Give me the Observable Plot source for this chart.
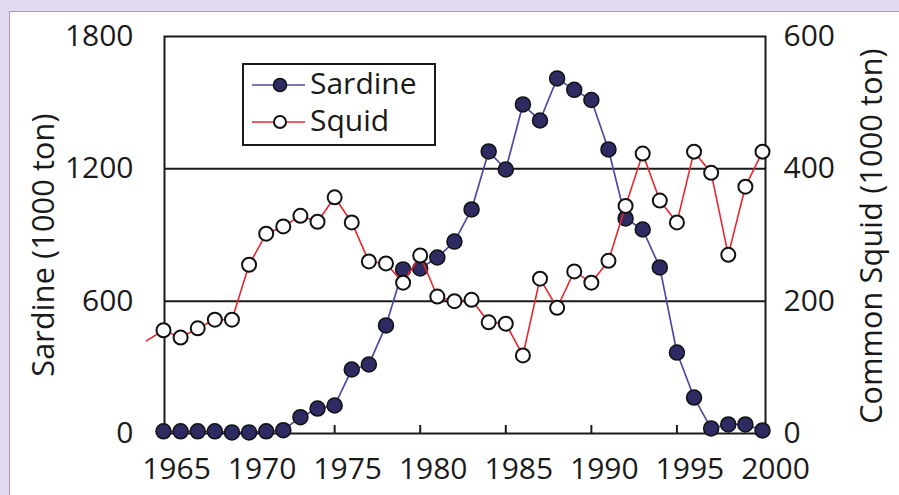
<!DOCTYPE html>
<html>
<head>
<meta charset="utf-8">
<script src="https://cdn.jsdelivr.net/npm/d3@7"></script>
<script src="https://cdn.jsdelivr.net/npm/@observablehq/plot@0.6"></script>
<style>
  html, body { margin: 0; padding: 0; }
  body { width: 899px; height: 495px; background: #e2dbef; position: relative; overflow: hidden; font-family: "Open Sans", sans-serif; color: #1a1a1a; }
  #panel { position: absolute; left: 9px; top: 11px; width: 900px; height: 500px; background: #fff; border-left: 1.5px solid #b48fd2; border-top: 1.5px solid #b48fd2; }
  #chart { position: absolute; left: 0; top: 0; }
  #legend { position: absolute; left: 242px; top: 63px; width: 194px; height: 83px; box-sizing: border-box; border: 2px solid #1a1a1a; background: #fff; }
  #legend svg { position: absolute; left: 0; top: 0; }
  #legend span { position: absolute; left: 66px; font-size: 30px; line-height: 30px; white-space: nowrap; }
  .ytitle { position: absolute; font-size: 30.5px; letter-spacing: 0.2px; line-height: 32px; white-space: nowrap; transform: translate(-50%, -50%) rotate(-90deg); }
</style>
</head>
<body>
<div id="panel"></div>
<div id="chart"></div>
<div id="legend"></div>
<div id="leftTitle" class="ytitle" style="left:42px; top:245px;"></div>
<div id="rightTitle" class="ytitle" style="left:870px; top:236px;"></div>
<script>
// ---- data ----
const years = [1965,1966,1967,1968,1969,1970,1971,1972,1973,1974,1975,1976,1977,1978,1979,1980,1981,1982,
               1983,1984,1985,1986,1987,1988,1989,1990,1991,1992,1993,1994,1995,1996,1997,1998,1999,2000];
const sardine = [10,10,10,10,5,5,10,15,74,113,127,290,313,490,744,748,798,870,
                 1016,1279,1197,1492,1419,1610,1558,1512,1288,975,925,753,367,163,23,41,41,14];
const squid = [156,145,159,172,172,255,302,313,329,320,357,319,260,257,228,269,207,200,
               202,168,166,118,234,190,245,228,261,344,423,352,319,426,394,270,373,426];
const squidPrevYear = 1964;
const squidPrevValue = 140;   // line enters from the left edge
const sardineTicks = [0, 600, 1200, 1800];
const yearLabels = [1965, 1970, 1975, 1980, 1985, 1990, 1995, 2000];
const yearTicks = [1975, 1980, 1985, 1990, 1995];
const seriesNames = ["Sardine", "Squid"];
const sardineTitle = "Sardine (1000 ton)";
const squidTitle = "Common Squid (1000 ton)";

const K = 1800 / 600; // left/right axis ratio
const sardineLine = "#4b4ba3", sardineFill = "#2d2b62", squidLine = "#e8262c", ink = "#1a1a1a";

const sardineRows = years.map((year, i) => ({year, value: sardine[i]}));
const squidRows = years.map((year, i) => ({year, value: squid[i]}));
const squidLineRows = [{year: squidPrevYear, value: squidPrevValue}, ...squidRows];

const chart = Plot.plot({
  width: 899, height: 495,
  marginLeft: 164, marginRight: 134, marginTop: 36, marginBottom: 62,
  x: {domain: [1965, 2000], range: [163, 762]},
  y: {domain: [0, 1800]},
  style: {background: "transparent", color: ink, fontFamily: "'Open Sans', sans-serif", fontSize: "30px", overflow: "visible"},
  marks: [
    Plot.ruleY([600, 1200], {stroke: ink, strokeWidth: 2}),
    Plot.frame({stroke: ink, strokeWidth: 2}),
    Plot.axisX(yearTicks, {tickSize: -8, tickFormat: () => "", strokeWidth: 2, label: null}),
    Plot.axisX(yearLabels, {tickSize: 0, tickPadding: 24, dx: 13, tickFormat: d => String(d), fontSize: 30, label: null}),
    Plot.axisY(sardineTicks, {anchor: "left", tickSize: 0, tickPadding: 31, tickFormat: d => String(d), fontSize: 30, label: null}),
    Plot.axisY(sardineTicks, {anchor: "right", tickSize: 0, tickPadding: 18, tickFormat: d => String(d / K), fontSize: 30, label: null}),
    Plot.line(sardineRows, {x: "year", y: "value", stroke: sardineLine, strokeWidth: 1.7}),
    Plot.dot(sardineRows, {x: "year", y: "value", r: 7.5, fill: sardineFill, stroke: "#111", strokeWidth: 1.5}),
    Plot.line(squidLineRows, {x: "year", y: d => d.value * K, stroke: squidLine, strokeWidth: 1.6}),
    Plot.dot(squidRows, {x: "year", y: d => d.value * K, r: 7, fill: "white", stroke: "#111", strokeWidth: 2})
  ]
});
document.getElementById("chart").appendChild(chart);

document.getElementById("leftTitle").textContent = sardineTitle;
document.getElementById("rightTitle").textContent = squidTitle;

// legend
const legend = document.getElementById("legend");
const rowsY = [20, 57];
legend.innerHTML =
  `<svg width="190" height="79">
     <line x1="8" x2="61" y1="${rowsY[0]}" y2="${rowsY[0]}" stroke="${sardineLine}" stroke-width="1.6"/>
     <circle cx="36" cy="${rowsY[0]}" r="6.5" fill="${sardineFill}" stroke="#111" stroke-width="1.5"/>
     <line x1="8" x2="61" y1="${rowsY[1]}" y2="${rowsY[1]}" stroke="${squidLine}" stroke-width="1.6"/>
     <circle cx="36" cy="${rowsY[1]}" r="6" fill="#fff" stroke="#111" stroke-width="2"/>
   </svg>` +
  seriesNames.map((n, i) => `<span style="top:${rowsY[i] - 17}px">${n}</span>`).join("");
</script>
</body>
</html>
